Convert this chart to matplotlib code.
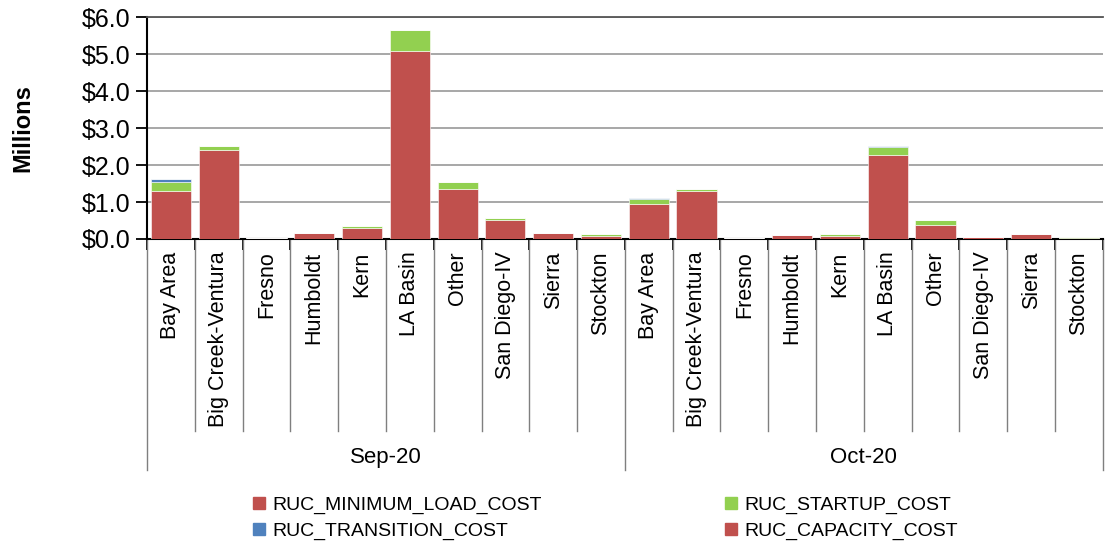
import numpy as np
import matplotlib.pyplot as plt
from matplotlib.patches import Patch

plt.rcParams['font.family'] = ['Liberation Sans', 'DejaVu Sans']

regions = ['Bay Area', 'Big Creek-Ventura', 'Fresno', 'Humboldt', 'Kern',
           'LA Basin', 'Other', 'San Diego-IV', 'Sierra', 'Stockton']
months = ['Sep-20', 'Oct-20']

# values in $ millions, Sep-20 then Oct-20
min_load = [1.31, 2.42, 0.03, 0.15, 0.31, 5.08, 1.36, 0.51, 0.15, 0.07,
            0.95, 1.30, 0.02, 0.11, 0.08, 2.27, 0.37, 0.05, 0.13, 0.04]
startup = [0.22, 0.10, 0.01, 0.01, 0.05, 0.57, 0.18, 0.06, 0.01, 0.065,
           0.12, 0.05, 0.00, 0.01, 0.045, 0.22, 0.14, 0.01, 0.01, 0.01]
transition = [0.09, 0.00, 0.00, 0.00, 0.00, 0.02, 0.00, 0.00, 0.00, 0.00,
              0.03, 0.00, 0.00, 0.00, 0.00, 0.03, 0.00, 0.00, 0.00, 0.00]
capacity = [0.0] * 20

RED = '#C0504D'
GREEN = '#92D050'
BLUE = '#4F81BD'

fig = plt.figure(figsize=(11.05, 5.46), dpi=100)
ax = fig.add_axes([0.133, 0.5623, 0.865, 0.4057])

x = np.arange(len(months) * len(regions))
w = 0.84
bottom = np.zeros(len(x))
for vals, col in [(min_load, RED), (startup, GREEN), (transition, BLUE), (capacity, RED)]:
    v = np.array(vals)
    ax.bar(x, v, w, bottom=bottom, color=col, edgecolor='white', linewidth=0.4, zorder=3)
    bottom += v

ax.set_xlim(-0.5, len(x) - 0.5)
ax.set_ylim(0, 6)
ax.set_yticks(np.arange(0, 6.1, 1))
ax.set_yticklabels([f'${v:.1f}' for v in np.arange(0, 6.1, 1)], fontsize=18)
ax.yaxis.grid(True, color='#A0A0A0', linewidth=1.3, zorder=0)
ax.tick_params(axis='y', length=8, width=1.3, color='black', pad=4)
ax.set_xticks(np.arange(-0.5, len(x), 1))
ax.set_xticklabels([])
ax.tick_params(axis='x', length=8, width=1.3, color='black')
for s in ['left', 'bottom']:
    ax.spines[s].set_linewidth(1.5)
ax.spines['top'].set_color('#555555')
ax.spines['top'].set_linewidth(1.3)
ax.spines['right'].set_visible(False)

ax.set_ylabel('Millions', fontsize=17, fontweight='bold')
ax.yaxis.set_label_coords(-0.118, 0.5)

trans = ax.get_xaxis_transform()
n = len(regions)
for i, xi in enumerate(x):
    ax.annotate(regions[i % n], (xi, 0), xycoords=trans, xytext=(0, -9),
                textcoords='offset points', rotation=90, ha='center', va='top',
                fontsize=15.5)
for b in np.arange(-0.5, len(x), 1):
    if round(b + 0.5) % n == 0:
        ax.plot([b, b], [0, -1.043], transform=trans, color='#7f7f7f', lw=1, clip_on=False)
    else:
        ax.plot([b, b], [0, -0.867], transform=trans, color='#7f7f7f', lw=1, clip_on=False)
for j, m in enumerate(months):
    ax.text(j * n + (n - 1) / 2, -0.985, m, transform=trans, ha='center', va='center',
            fontsize=16)

handles = [Patch(color=RED, label='RUC_MINIMUM_LOAD_COST'),
           Patch(color=BLUE, label='RUC_TRANSITION_COST'),
           Patch(color=GREEN, label='RUC_STARTUP_COST'),
           Patch(color=RED, label='RUC_CAPACITY_COST')]
fig.legend(handles=handles, ncol=2, loc='center', bbox_to_anchor=(0.548, 0.051),
           frameon=False, fontsize=14, handlelength=0.6, handleheight=0.6,
           handletextpad=0.4, columnspacing=9.4, labelspacing=0.45)

fig.savefig('out.png', dpi=100)
